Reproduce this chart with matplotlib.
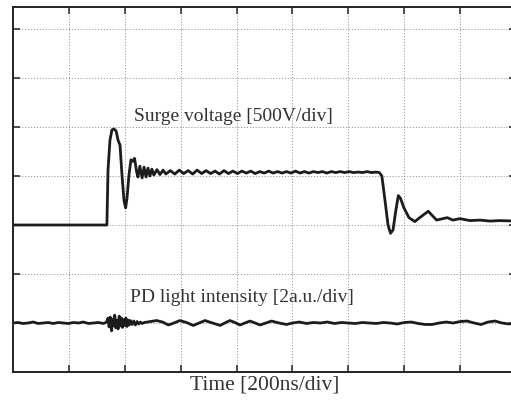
import numpy as np
import matplotlib
matplotlib.use("Agg")
import matplotlib.pyplot as plt

# =========================
# 1. WAVEFORM DATA
# =========================
# time in ns (200 ns/div), amplitude in screen divisions

surge_t = [0, 336, 340, 347, 354, 361, 369, 376, 383, 390, 397, 403, 408, 415, 422, 429,
           435, 442, 447, 454, 462, 469, 476, 483, 490, 497, 504, 515, 526, 537, 547,
           563, 579, 595, 611, 627, 643, 659, 675, 691, 707, 723, 739, 755, 771, 787,
           803, 819, 835, 851, 867, 883, 899, 915, 931, 947, 963, 979, 995, 1011, 1027,
           1043, 1059, 1075, 1091, 1107, 1123, 1139, 1155, 1171, 1187, 1203, 1219, 1235,
           1251, 1267, 1283, 1299, 1311, 1320, 1331, 1342, 1351, 1360, 1370, 1379, 1387,
           1399, 1417, 1438, 1460, 1486, 1516, 1531, 1554, 1574, 1599, 1635, 1671, 1707,
           1742, 1800]
surge_v = [3.00, 3.00, 4.12, 4.73, 4.94, 4.96, 4.92, 4.73, 4.63, 4.02, 3.51, 3.35, 3.55,
           4.02, 4.33, 4.30, 4.36, 4.10, 3.98, 4.20, 3.96, 4.18, 3.98, 4.16, 4.00, 4.14,
           4.02, 4.13, 4.03, 4.12, 4.04,
           4.11, 4.04, 4.12, 4.05, 4.11, 4.04, 4.12, 4.05, 4.11, 4.05, 4.10, 4.04, 4.11,
           4.05, 4.10, 4.05, 4.10, 4.06, 4.10, 4.05, 4.09, 4.06, 4.10, 4.06, 4.09, 4.06,
           4.09, 4.06, 4.10, 4.06, 4.09, 4.06, 4.09, 4.07, 4.09, 4.06, 4.09, 4.07, 4.09,
           4.07, 4.09, 4.07, 4.08, 4.07, 4.09, 4.07, 4.08, 4.07, 4.00, 3.51, 3.00, 2.83,
           2.90, 3.30, 3.60, 3.54, 3.35, 3.15, 3.07, 3.17, 3.28, 3.10, 3.12, 3.15, 3.10,
           3.13, 3.09, 3.10, 3.08, 3.09, 3.08]

pd_t = [0, 18, 36, 54, 72, 90, 108, 126, 144, 162, 180, 198, 216, 234, 252, 270, 288,
        306, 324,
        335, 340, 344, 348, 353, 356, 360, 364, 368, 372, 376, 380, 384, 388, 392, 396,
        400, 404, 408, 412, 416, 420, 426, 432, 438, 444, 450, 456, 462, 470,
        492, 514, 535, 556, 576, 597, 621, 645, 666, 687, 714, 741, 758, 776, 794, 812,
        830, 848, 866, 884, 905, 925, 952, 979,
        1000, 1025, 1050, 1075, 1100, 1125, 1150, 1175, 1200, 1225, 1250, 1275, 1300,
        1325, 1350, 1375, 1400, 1425, 1450, 1475, 1500, 1525, 1550, 1575, 1600, 1625,
        1650, 1675, 1700, 1725, 1750, 1775, 1800]
pd_v = [1.00, 1.01, 0.99, 1.00, 1.02, 0.99, 1.00, 1.01, 0.99, 1.01, 1.00, 0.99, 1.01,
        1.00, 1.02, 0.99, 1.00, 1.01, 0.99,
        1.02, 1.10, 0.92, 1.12, 0.84, 1.08, 0.95, 1.16, 0.90, 1.06, 0.88, 1.14, 0.94,
        1.10, 0.91, 1.07, 0.95, 1.10, 0.93, 1.06, 0.96, 1.05, 0.97, 1.04, 0.96, 1.03,
        0.98, 1.02, 0.99, 1.01,
        1.03, 1.05, 1.02, 0.96, 1.00, 1.05, 1.01, 0.95, 1.00, 1.05, 1.00, 0.95, 1.00,
        1.05, 1.01, 0.96, 1.00, 1.04, 1.00, 0.96, 1.00, 1.04, 1.00, 0.97,
        1.00, 1.02, 0.99, 1.01, 1.00, 1.02, 0.99, 1.01, 1.00, 0.99, 1.01, 1.00, 0.99,
        1.01, 1.00, 0.98, 1.01, 1.02, 0.99, 0.97, 0.97, 1.00, 1.02, 1.00, 1.03, 1.04,
        1.00, 0.97, 1.02, 1.04, 1.00, 0.98, 1.01]

# =========================
# 2. PLOT
# =========================

plt.rcParams["font.family"] = ["Liberation Serif", "DejaVu Serif"]

fig = plt.figure(figsize=(5.11, 4.03), dpi=100)
# right edge of the screen runs just past the figure border
ax = fig.add_axes([13 / 511, 31 / 403, 503 / 511, 365 / 403])

ax.plot(surge_t, surge_v, color="#1c1c1c", lw=2.0, solid_joinstyle="round")
ax.plot(pd_t, pd_v, color="#1c1c1c", lw=2.0, solid_joinstyle="round")

ax.set_xlim(0, 1800)
ax.set_ylim(0, 365 / 49)
ax.set_xticks(np.arange(200, 1800, 200))
ax.set_yticks(np.arange(1, 8))
ax.grid(True, linestyle=(0, (1.2, 1.8)), color="#999999", lw=0.7)
ax.tick_params(direction="in", length=5, width=1.1, top=True, right=True,
               labelbottom=False, labelleft=False, color="#222222")
for s in ax.spines.values():
    s.set_linewidth(1.4)
    s.set_color("#222222")

ax.text(121 / 503 * 1800, 5.22, "Surge voltage [500V/div]", fontsize=14, color="#333333",
        va="center")
ax.text(117 / 503 * 1800, 1.53, "PD light intensity [2a.u./div]", fontsize=14,
        color="#333333", va="center")
fig.text(265 / 511, 18 / 403, "Time [200ns/div]", fontsize=15.5, color="#333333",
         ha="center", va="center")

plt.savefig("out.png", dpi=100)
